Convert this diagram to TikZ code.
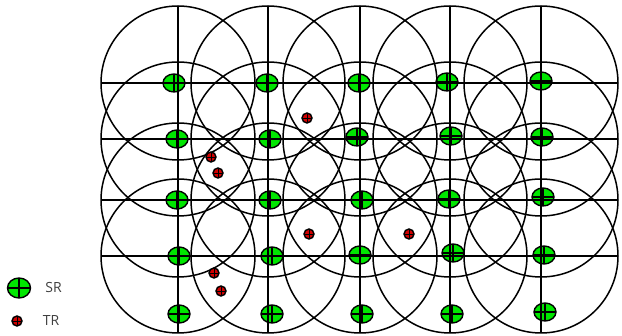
\documentclass[tikz,border=0pt]{standalone}
\usepackage{fontspec}
\setmainfont{Open Sans}
\usetikzlibrary{positioning,shapes.geometric}
\definecolor{csr}{HTML}{00E600}
\definecolor{ctr}{HTML}{D00000}
\definecolor{ctexto}{HTML}{404040}
\tikzset{
  sr/.style={ellipse,draw=black,fill=csr,line width=1.4pt,inner sep=0pt,
             minimum width=22pt,minimum height=18pt,
             path picture={\draw[line width=1.3pt]
               (path picture bounding box.north) -- (path picture bounding box.south)
               (path picture bounding box.west) -- (path picture bounding box.east);}},
  tr/.style={circle,draw=black,fill=ctr,line width=1.4pt,inner sep=0pt,minimum size=10pt,
             path picture={\draw[line width=0.9pt]
               (path picture bounding box.north) -- (path picture bounding box.south)
               (path picture bounding box.west) -- (path picture bounding box.east);}},
  zona/.style={draw=black,line width=1.5pt},
  eje/.style={draw=black,line width=1.5pt},
  leyenda/.style={font=\fontsize{14}{16}\selectfont,text=ctexto,inner sep=1pt},
}
\begin{document}
\begin{tikzpicture}[x=1pt,y=-1pt]
\useasboundingbox (0,0) rectangle (622,336);

\node[sr] (sr11) at (174,83) {};
\node[sr] (sr12) at (267,83) {};
\node[sr] (sr13) at (359,83) {};
\node[sr] (sr14) at (447,82) {};
\node[sr] (sr15) at (541,81) {};

\node[sr] (sr21) at (177,139) {};
\node[sr] (sr22) at (270,139) {};
\node[sr] (sr23) at (357,137) {};
\node[sr] (sr24) at (451,136) {};
\node[sr] (sr25) at (542,137) {};

\node[sr] (sr31) at (177,200) {};
\node[sr] (sr32) at (270,200) {};
\node[sr] (sr33) at (362,200) {};
\node[sr] (sr34) at (449,199) {};
\node[sr] (sr35) at (543,197) {};

\node[sr] (sr41) at (179,256) {};
\node[sr] (sr42) at (272,256) {};
\node[sr] (sr43) at (360,255) {};
\node[sr] (sr44) at (453,253) {};
\node[sr] (sr45) at (544,255) {};

\node[sr] (sr51) at (179,314) {};
\node[sr] (sr52) at (272,314) {};
\node[sr] (sr53) at (362,314) {};
\node[sr] (sr54) at (452,314) {};
\node[sr] (sr55) at (545,312) {};

% zonas de cobertura
\path[zona] (178,83) circle (77) (268,83) circle (77) (360,83) circle (77) (450,83) circle (77) (541,83) circle (77);
\path[zona] (178,139) circle (77) (268,139) circle (77) (360,139) circle (77) (450,139) circle (77) (541,139) circle (77);
\path[zona] (178,200) circle (77) (268,200) circle (77) (360,200) circle (77) (450,200) circle (77) (541,200) circle (77);
\path[zona] (178,256) circle (77) (268,256) circle (77) (360,256) circle (77) (450,256) circle (77) (541,256) circle (77);

\path[eje] (101,83) -- (618,83) (101,139) -- (618,139) (101,200) -- (618,200) (101,256) -- (618,256);
\path[eje] (178,6) -- (178,333) (268,6) -- (268,333) (360,6) -- (360,333) (450,6) -- (450,333) (541,6) -- (541,333);

\node[tr] (tr1) at (211,157) {};
\node[tr] (tr2) at (218,173) {};
\node[tr] (tr3) at (307,118) {};
\node[tr] (tr4) at (309,234) {};
\node[tr] (tr5) at (409,234) {};
\node[tr] (tr6) at (214,273) {};
\node[tr] (tr7) at (221,291) {};

\node[sr,minimum width=23pt,minimum height=20pt] (legsr) at (19,288) {};
\node[leyenda,right=13pt of legsr] (labsr) {SR};
\node[tr] (legtr) at (17,321) {};
\node[leyenda,right=19pt of legtr] (labtr) {TR};

\end{tikzpicture}
\end{document}
